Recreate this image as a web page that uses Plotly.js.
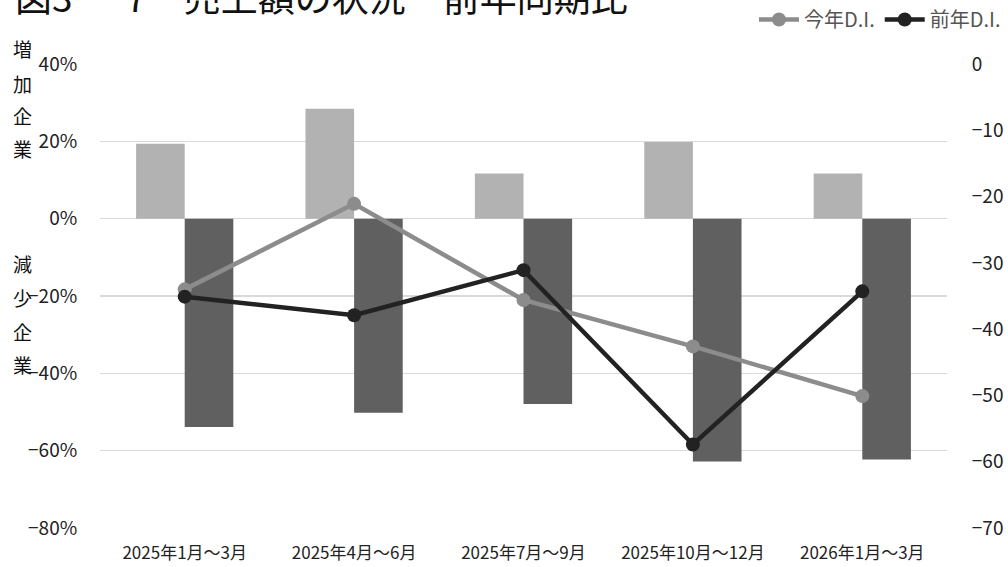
<!DOCTYPE html>
<html>
<head>
<meta charset="utf-8">
<script src="https://cdn.plot.ly/plotly-3.0.1.min.js"></script>
<style>html,body{margin:0;padding:0;background:#fff;}#chart{width:1008px;height:567px;}</style>
</head>
<body>
<div id="chart"></div>
<script>
// ---- data ----
const categories = ["2025年1月～3月", "2025年4月～6月", "2025年7月～9月", "2025年10月～12月", "2026年1月～3月"];
const increasePct = [19.4, 28.4, 11.7, 19.8, 11.7];      // 増加企業 (%)
const decreasePct = [-53.9, -50.2, -47.9, -62.8, -62.3]; // 減少企業 (%)
const thisYearDI = [-34.0, -21.1, -35.6, -42.6, -50.1];  // 今年D.I.
const lastYearDI = [-35.1, -37.9, -31.1, -57.4, -34.3];  // 前年D.I.
const leftTicks = [-80, -60, -40, -20, 0, 20, 40];
const leftTickText = ["−80%", "−60%", "−40%", "−20%", "0%", "20%", "40%"];
const rightTicks = [-70, -60, -50, -40, -30, -20, -10, 0];
const rightTickText = ["−70", "−60", "−50", "−40", "−30", "−20", "−10", "0"];
const titleText = "図3 － 7　売上額の状況　前年同期比";
const upLabel = "増加企業";
const downLabel = "減少企業";

const FONT = "'Noto Sans CJK JP', 'Noto Sans', sans-serif";

const traces = [
  {type: 'bar', x: categories, y: increasePct, name: upLabel, marker: {color: '#b2b2b2'}, showlegend: false, hoverinfo: 'skip'},
  {type: 'bar', x: categories, y: decreasePct, name: downLabel, marker: {color: '#606060'}, showlegend: false, hoverinfo: 'skip'},
  {type: 'scatter', mode: 'lines+markers', x: categories, y: thisYearDI, yaxis: 'y2', name: '今年D.I.',
   line: {color: '#8c8c8c', width: 4.5}, marker: {color: '#8c8c8c', size: 14}},
  {type: 'scatter', mode: 'lines+markers', x: categories, y: lastYearDI, yaxis: 'y2', name: '前年D.I.',
   line: {color: '#222222', width: 4.5}, marker: {color: '#222222', size: 14}}
];

// layout geometry
const L = 100, R = 61, T = 64, B = 39, H = 567 - T - B;
const py = (pix) => (567 - B - pix) / H; // pixel y -> paper y

const annotations = [
  {text: titleText, xref: 'paper', yref: 'paper', x: -87 / 847, y: py(-4), xanchor: 'left', yanchor: 'middle',
   showarrow: false, font: {family: FONT, size: 37, color: '#111'}}
];
const upY = [49, 83, 116, 148];
const downY = [263, 297, 331, 364];
upLabel.split('').forEach((c, i) => annotations.push({text: c, xref: 'paper', yref: 'paper', x: -78 / 847, y: py(upY[i]),
  xanchor: 'center', yanchor: 'middle', showarrow: false, font: {family: FONT, size: 19, color: '#111'}}));
downLabel.split('').forEach((c, i) => annotations.push({text: c, xref: 'paper', yref: 'paper', x: -78 / 847, y: py(downY[i]),
  xanchor: 'center', yanchor: 'middle', showarrow: false, font: {family: FONT, size: 19, color: '#111'}}));

const layout = {
  width: 1008, height: 567,
  margin: {l: L, r: R, t: T, b: B},
  paper_bgcolor: '#fff', plot_bgcolor: '#fff',
  font: {family: FONT, color: '#222'},
  barmode: 'group', bargap: 0.426, bargroupgap: 0,
  showlegend: true,
  legend: {orientation: 'h', xref: 'container', yref: 'container', x: 0.998, xanchor: 'right', y: 1.0, yanchor: 'top',
    font: {family: FONT, size: 20, color: '#555'}, itemwidth: 40, tracegroupgap: 0, bgcolor: 'rgba(0,0,0,0)'},
  xaxis: {type: 'category', showgrid: false, zeroline: false, showline: false, ticks: 'outside', ticklen: 10, tickcolor: 'rgba(0,0,0,0)',
    tickfont: {family: FONT, size: 17, color: '#222'}, fixedrange: true},
  yaxis: {range: [-80, 40], tickmode: 'array', tickvals: leftTicks, ticktext: leftTickText, showgrid: true, gridcolor: '#d9d9d9', gridwidth: 1.5,
    zeroline: false, showline: false, ticks: 'outside', ticklen: 18, tickcolor: 'rgba(0,0,0,0)',
    tickfont: {family: FONT, size: 19, color: '#222'}},
  yaxis2: {overlaying: 'y', side: 'right', range: [-70, 0], tickmode: 'array', tickvals: rightTicks, ticktext: rightTickText,
    showgrid: false, zeroline: false, showline: false,
    ticks: 'outside', ticklen: 20, tickcolor: 'rgba(0,0,0,0)', tickfont: {family: FONT, size: 19, color: '#222'}},
  annotations: annotations
};

Plotly.newPlot('chart', traces, layout, {displayModeBar: false, staticPlot: true});
</script>
</body>
</html>
